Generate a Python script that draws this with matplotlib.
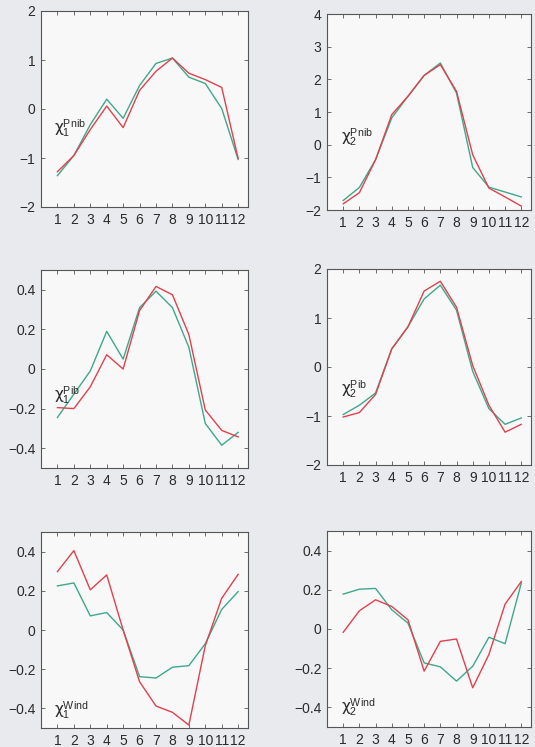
import matplotlib
matplotlib.use("Agg")
import matplotlib.pyplot as plt

plt.rcParams["font.family"] = ["Liberation Sans", "DejaVu Sans"]
plt.rcParams["mathtext.fontset"] = "custom"
plt.rcParams["mathtext.rm"] = "Liberation Sans"
plt.rcParams["mathtext.it"] = "Liberation Sans:italic"
plt.rcParams["mathtext.sf"] = "DejaVu Sans"
plt.rcParams["axes.unicode_minus"] = True

months = list(range(1, 13))

# first (red) and second (green) series for each panel
pnib1_red = [-1.28, -0.95, -0.42, 0.06, -0.38, 0.38, 0.77, 1.04, 0.73, 0.60, 0.44, -1.01]
pnib1_green = [-1.36, -0.95, -0.32, 0.20, -0.19, 0.48, 0.93, 1.04, 0.65, 0.52, 0.01, -1.03]
pnib2_red = [-1.81, -1.47, -0.46, 0.92, 1.48, 2.12, 2.45, 1.63, -0.31, -1.33, -1.60, -1.88]
pnib2_green = [-1.71, -1.31, -0.46, 0.82, 1.48, 2.12, 2.50, 1.58, -0.70, -1.30, -1.45, -1.60]
pib1_red = [-0.195, -0.200, -0.090, 0.072, 0.000, 0.295, 0.417, 0.375, 0.174, -0.207, -0.310, -0.343]
pib1_green = [-0.245, -0.127, -0.010, 0.190, 0.050, 0.310, 0.393, 0.310, 0.110, -0.275, -0.385, -0.320]
pib2_red = [-1.02, -0.93, -0.56, 0.37, 0.82, 1.55, 1.75, 1.22, 0.03, -0.78, -1.33, -1.17]
pib2_green = [-0.97, -0.78, -0.53, 0.37, 0.82, 1.39, 1.67, 1.16, -0.09, -0.85, -1.17, -1.04]
wind1_red = [0.298, 0.405, 0.205, 0.281, 0.000, -0.264, -0.388, -0.420, -0.485, -0.080, 0.162, 0.284]
wind1_green = [0.225, 0.240, 0.072, 0.089, 0.000, -0.238, -0.245, -0.190, -0.182, -0.070, 0.105, 0.196]
wind2_red = [-0.017, 0.093, 0.149, 0.115, 0.047, -0.215, -0.063, -0.051, -0.300, -0.130, 0.127, 0.242]
wind2_green = [0.178, 0.203, 0.207, 0.098, 0.030, -0.173, -0.193, -0.266, -0.190, -0.042, -0.075, 0.234]

labels = [
    r"$\mathsf{\chi}_1^{\mathrm{Pnib}}$", r"$\mathsf{\chi}_2^{\mathrm{Pnib}}$",
    r"$\mathsf{\chi}_1^{\mathrm{Pib}}$", r"$\mathsf{\chi}_2^{\mathrm{Pib}}$",
    r"$\mathsf{\chi}_1^{\mathrm{Wind}}$", r"$\mathsf{\chi}_2^{\mathrm{Wind}}$",
]
series = [
    (pnib1_red, pnib1_green), (pnib2_red, pnib2_green),
    (pib1_red, pib1_green), (pib2_red, pib2_green),
    (wind1_red, wind1_green), (wind2_red, wind2_green),
]
ylims = [(-2, 2), (-2, 4), (-0.5, 0.5), (-2, 2), (-0.5, 0.5), (-0.5, 0.5)]
yticks = [
    [-2, -1, 0, 1, 2], [-2, -1, 0, 1, 2, 3, 4],
    [-0.4, -0.2, 0, 0.2, 0.4], [-2, -1, 0, 1, 2],
    [-0.4, -0.2, 0, 0.2, 0.4], [-0.4, -0.2, 0, 0.2, 0.4],
]
label_pos = [(0.8, -0.38), (0.85, 0.22), (0.8, -0.13), (0.85, -0.44), (0.8, -0.41), (0.85, -0.40)]

W, H = 535, 747
fig = plt.figure(figsize=(W / 100, H / 100), dpi=100, facecolor="#e9eaed")

# axes boxes in pixels: left, top, right, bottom
boxes = [
    (41, 11, 248, 207), (327, 14, 531, 210),
    (41, 270, 248, 468), (327, 269, 531, 465),
    (41, 532, 248, 728), (327, 531, 531, 727),
]

red = "#e0414c"
green = "#3ea88a"

for box, (r, g), yl, yt, lab, lp in zip(boxes, series, ylims, yticks, labels, label_pos):
    l, t, rr, b = box
    ax = fig.add_axes([l / W, 1 - b / H, (rr - l) / W, (b - t) / H])
    ax.set_facecolor("#f8f8f9")
    ax.plot(months, g, color=green, lw=1.0)
    ax.plot(months, r, color=red, lw=1.0)
    ax.set_xlim(0, 12.6)
    ax.set_ylim(*yl)
    ax.set_xticks(months)
    ax.set_yticks(yt)
    ax.set_yticklabels(["0" if v == 0 else f"{v:g}".replace("-", "\u2212") for v in yt])
    ax.tick_params(direction="in", top=True, right=True, length=3, width=0.6,
                   color="#555555", labelsize=10, labelcolor="#2a2a2a", pad=4)
    for s in ax.spines.values():
        s.set_color("#555555")
        s.set_linewidth(0.8)
    ax.text(lp[0], lp[1], lab, fontsize=11, color="#2a2a2a", va="center", ha="left")

fig.savefig("out.png", dpi=100, facecolor=fig.get_facecolor())
